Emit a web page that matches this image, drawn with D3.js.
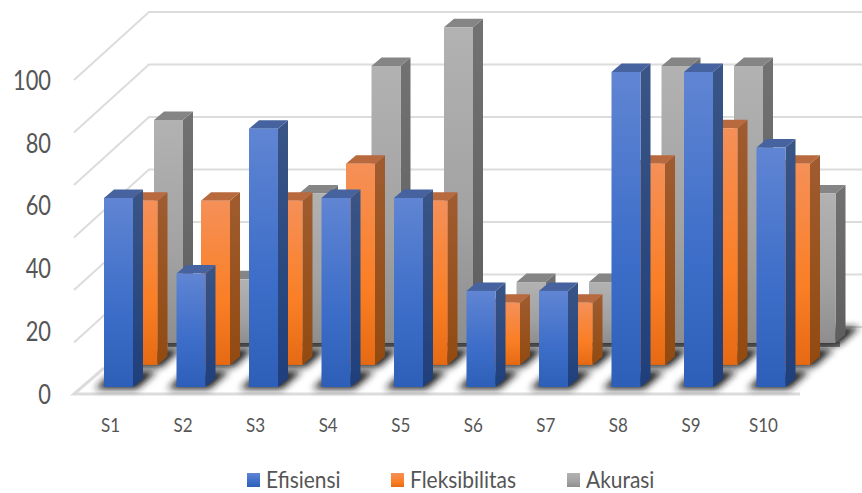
<!DOCTYPE html>
<html>
<head>
<meta charset="utf-8">
<script src="https://cdn.jsdelivr.net/npm/d3@7/dist/d3.min.js"></script>
<style>
html,body{margin:0;padding:0;background:#fff;}
svg{display:block;}
text{font-family:Lato,"Open Sans",sans-serif;fill:#595959;}
</style>
</head>
<body>
<svg id="chart" width="862" height="493"></svg>
<script>
const categories = ["S1","S2","S3","S4","S5","S6","S7","S8","S9","S10"];
const seriesNames = ["Efisiensi","Fleksibilitas","Akurasi"];
const efisiensi = [60,36,82,60,60,30.5,30.5,100,100,76];
const fleksibilitas = [55.5,55.5,55.5,68,55.5,21,21,68,80,68];
const akurasi = [80.5,23,54,100,114,22,22,100,100,54];
const yTicks = [0,20,40,60,80,100];

const svg = d3.select("#chart");
const defs = svg.append("defs");
const W = 862;

// Oblique projection of the 3D box
const skew = {dx:75, dy:-68};
const barDepth = {dx:10, dy:-8.5};

const yFront = d3.scaleLinear().domain([0,100]).range([394,80]);
const yWall = d3.scaleLinear().domain([0,120]).range([327,12]);
const x = d3.scaleBand().domain(categories).range([104,785.5]).paddingInner(0.6).paddingOuter(0);
const xLabel = d3.scalePoint().domain(categories).range([110,763]);

// Each series sits on its own row, further rows being shifted and slightly smaller
const rows = [
  {values:efisiensi, dx:0, y:d3.scaleLinear().domain([0,100]).range([387,72]),
   front:["#6085d3","#3c6dc8","#2e5fb8"], side:["#3a5586","#1f3f7c"], top:"#46639f"},
  {values:fleksibilitas, dx:24.5, y:d3.scaleLinear().domain([0,100]).range([365,69]),
   front:["#f59058","#fa7f26","#e56a13"], side:["#a05c30","#924a10"], top:"#b8693e"},
  {values:akurasi, dx:50, y:d3.scaleLinear().domain([0,100]).range([343,66]),
   front:["#b2b2b2","#a2a2a2","#8e8e8e"], side:["#727272","#5e5e5e"], top:"#858585"}
];

rows.forEach((r,i)=>{
  const f = defs.append("linearGradient").attr("id","front"+i).attr("x1",0).attr("y1",0).attr("x2",0).attr("y2",1);
  r.front.forEach((c,k)=>f.append("stop").attr("offset",[0,0.6,1][k]).attr("stop-color",c));
  const s = defs.append("linearGradient").attr("id","side"+i).attr("x1",0).attr("y1",0).attr("x2",0).attr("y2",1);
  r.side.forEach((c,k)=>s.append("stop").attr("offset",k).attr("stop-color",c));
});
defs.append("filter").attr("id","soft").attr("x","-40%").attr("y","-80%").attr("width","180%").attr("height","260%")
  .append("feGaussianBlur").attr("stdDeviation",3.6);

// Wall gridlines and their run down the side wall
const gridTicks = d3.range(0,121,20);
const grid = svg.append("g").attr("stroke","#dcdcdc").attr("stroke-width",2).attr("fill","none");
grid.selectAll("path.wall").data(gridTicks.slice(1)).join("path")
  .attr("class","wall")
  .attr("d",t=>{
    const yb = yWall(t);
    return d3.line()([[74,yb-skew.dy],[74+skew.dx,yb],[W,yb]]);
  });
grid.append("path").attr("d",d3.line()([[845,yWall(0)],[W,yWall(0)]]));
grid.append("path").attr("stroke-width",3).attr("d",d3.line()([[800,yFront(0)],[74,yFront(0)],[104,yFront(0)-26]]));

// Strip where the back row meets the floor
svg.append("rect").attr("x",168).attr("y",rows[2].y(0)-1).attr("width",672).attr("height",5)
  .attr("fill","#8a8a8a");

function shadow(g, r){
  g.selectAll("path.shadow").data(r.values).join("path")
    .attr("class","shadow")
    .attr("fill","#1c1c1c")
    .attr("filter","url(#soft)")
    .attr("d",(d,i)=>{
      const x0 = x(categories[i])+r.dx, x1 = x0+x.bandwidth(), b = r.y(0);
      return d3.line()([[x0-9,b+2],[x1+4,b+2],[x1+24,b-16],[x0+10,b-16]])+"Z";
    });
}

// Back rows are painted first so nearer bars cover them
[2,1,0].forEach(i=>{
  const r = rows[i];
  const g = svg.append("g");
  shadow(g.append("g"), r);
  const bars = g.selectAll("g.bar").data(r.values).join("g").attr("class","bar");
  const w = x.bandwidth();
  const X = (k)=>x(categories[k])+r.dx;
  bars.append("path").attr("fill",`url(#side${i})`)
    .attr("d",(d,k)=>d3.line()([[X(k)+w,r.y(d)],[X(k)+w+barDepth.dx,r.y(d)+barDepth.dy],[X(k)+w+barDepth.dx,r.y(0)+barDepth.dy],[X(k)+w,r.y(0)]])+"Z");
  bars.append("path").attr("fill",r.top)
    .attr("d",(d,k)=>d3.line()([[X(k),r.y(d)],[X(k)+barDepth.dx,r.y(d)+barDepth.dy],[X(k)+w+barDepth.dx,r.y(d)+barDepth.dy],[X(k)+w,r.y(d)]])+"Z");
  bars.append("rect").attr("fill",`url(#front${i})`)
    .attr("x",(d,k)=>X(k)).attr("y",d=>r.y(d)).attr("width",w).attr("height",d=>r.y(0)-r.y(d));
});

// The label face runs narrow, so each label is condensed to a fraction of its natural width
function condense(sel, factor){
  sel.each(function(){
    const t = d3.select(this);
    t.attr("textLength", this.getComputedTextLength()*factor).attr("lengthAdjust","spacingAndGlyphs");
  });
}

// Value axis labels
const yAxis = svg.append("g").attr("transform","translate(51,0)")
  .call(d3.axisLeft(yFront).tickValues(yTicks).tickSize(0).tickPadding(0));
yAxis.select(".domain").remove();
yAxis.selectAll("text").style("font-family","Lato,sans-serif").style("fill","#555")
  .attr("font-size",26).attr("dy","0.36em").call(condense,0.84);

// Category axis labels
const xAxis = svg.append("g").attr("transform","translate(0,418)")
  .call(d3.axisBottom(xLabel).tickSize(0).tickPadding(0));
xAxis.select(".domain").remove();
xAxis.selectAll("text").style("font-family","Lato,sans-serif").style("fill","#555")
  .attr("font-size",20).attr("dy","0.71em").call(condense,0.85);

// Legend
const legendX = [247,391,567];
const legend = svg.append("g").selectAll("g").data(seriesNames).join("g")
  .attr("transform",(d,i)=>`translate(${legendX[i]},473)`);
legend.append("rect").attr("width",13).attr("height",14).attr("fill",(d,i)=>`url(#front${i})`);
legend.append("text").attr("x",19).attr("y",7).attr("dy","0.36em").attr("font-size",23)
  .style("fill","#555").text(d=>d).call(condense,0.91);
</script>
</body>
</html>
